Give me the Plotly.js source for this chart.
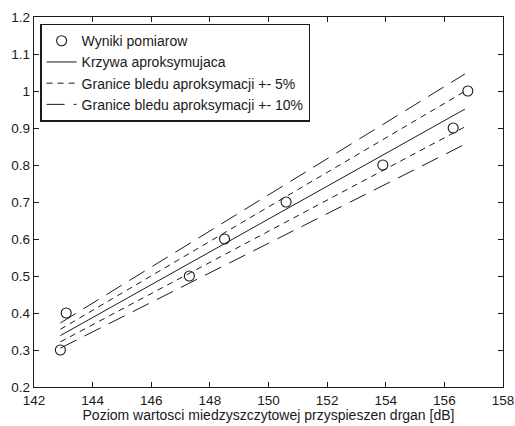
<!DOCTYPE html>
<html>
<head>
<meta charset="utf-8">
<script src="https://cdn.plot.ly/plotly-3.0.1.min.js"></script>
<style>html,body{margin:0;padding:0;background:#fff;}#chart{width:515px;height:426px;}</style>
</head>
<body>
<div id="chart"></div>
<script>
// Measured points
var xMeas = [142.9, 143.1, 147.3, 148.5, 150.6, 153.9, 156.3, 156.8];
var yMeas = [0.30, 0.40, 0.50, 0.60, 0.70, 0.80, 0.90, 1.00];
// Approximation line (endpoints)
var fitX = [142.9, 156.7];
var fitY = [0.339, 0.951];
// Error bounds +-5% and +-10%
var up5Y = [0.356, 0.999];
var lo5Y = [0.322, 0.903];
var up10Y = [0.373, 1.046];
var lo10Y = [0.305, 0.856];
var legendNames = ['Wyniki pomiarow', 'Krzywa aproksymujaca', 'Granice bledu aproksymacji +- 5%', 'Granice bledu aproksymacji +- 10%'];
var xTitle = 'Poziom wartosci miedzyszczytowej przyspieszen drgan [dB]';

var ink = '#1a1a1a';
var traces = [
  {x: xMeas, y: yMeas, mode: 'markers', name: legendNames[0],
   marker: {symbol: 'circle-open', size: 10, color: ink, line: {width: 1.1, color: ink}}},
  {x: fitX, y: fitY, mode: 'lines', name: legendNames[1], line: {color: ink, width: 1}},
  {x: fitX, y: up5Y, mode: 'lines', name: legendNames[2], legendgroup: 'g5', line: {color: ink, width: 1, dash: '6px,5px'}},
  {x: fitX, y: lo5Y, mode: 'lines', name: legendNames[2], legendgroup: 'g5', showlegend: false, line: {color: ink, width: 1, dash: '6px,5px'}},
  {x: fitX, y: up10Y, mode: 'lines', name: legendNames[3], legendgroup: 'g10', line: {color: ink, width: 1, dash: '18px,9px'}},
  {x: fitX, y: lo10Y, mode: 'lines', name: legendNames[3], legendgroup: 'g10', showlegend: false, line: {color: ink, width: 1, dash: '18px,9px'}}
];

var axisCommon = {
  showgrid: false, zeroline: false, showline: true, mirror: 'ticks',
  linecolor: ink, linewidth: 1.3, ticks: 'inside', ticklen: 5, tickwidth: 1, tickcolor: ink,
  tickfont: {family: 'Liberation Sans, Arial, sans-serif', size: 13.5, color: ink}
};

var layout = {
  width: 515, height: 426,
  margin: {l: 34, r: 12, t: 17, b: 39},
  paper_bgcolor: '#fff', plot_bgcolor: '#fff',
  font: {family: 'Liberation Sans, Arial, sans-serif', size: 14, color: ink},
  xaxis: Object.assign({}, axisCommon, {range: [142, 158], dtick: 2, tick0: 142,
    title: {text: xTitle, font: {size: 14, color: ink}, standoff: 1}}),
  yaxis: Object.assign({}, axisCommon, {range: [0.2, 1.2], dtick: 0.1, tick0: 0.2}),
  showlegend: true,
  legend: {x: 0.013, y: 0.982, xanchor: 'left', yanchor: 'top',
    bgcolor: '#fff', bordercolor: ink, borderwidth: 1.5,
    font: {size: 14, color: ink}, tracegroupgap: 0, itemwidth: 30}
};

Plotly.newPlot('chart', traces, layout, {staticPlot: true, displayModeBar: false});
</script>
</body>
</html>
